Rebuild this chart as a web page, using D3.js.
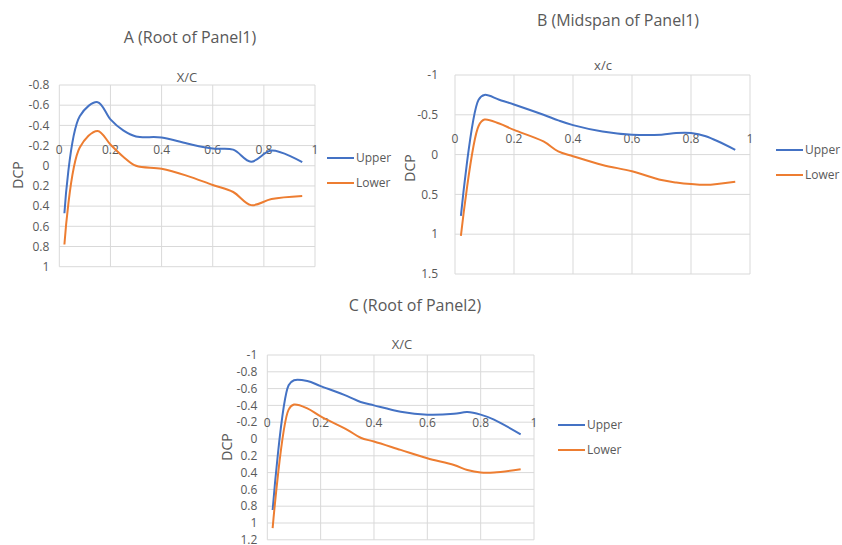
<!DOCTYPE html>
<html>
<head>
<meta charset="utf-8">
<script src="https://cdn.jsdelivr.net/npm/d3@7"></script>
<style>
  body { margin: 0; background: #fff; }
  text { font-family: "Open Sans", "Liberation Sans", sans-serif; fill: #595959; }
</style>
</head>
<body>
<svg width="842" height="545"></svg>
<script>
// x/c stations
var xA = [0.02, 0.08, 0.15, 0.2, 0.25, 0.3, 0.4, 0.5, 0.6, 0.68, 0.75, 0.83, 0.95];
var upperA = [0.47, -0.49, -0.63, -0.46, -0.35, -0.29, -0.28, -0.22, -0.17, -0.16, -0.04, -0.15, -0.035];
var lowerA = [0.78, -0.18, -0.345, -0.21, -0.09, 0.0, 0.03, 0.1, 0.19, 0.26, 0.39, 0.33, 0.3];

var xB = [0.02, 0.08, 0.1, 0.15, 0.2, 0.3, 0.35, 0.4, 0.5, 0.6, 0.7, 0.75, 0.8, 0.85, 0.95];
var upperB = [0.77, -0.69, -0.75, -0.69, -0.63, -0.5, -0.43, -0.37, -0.29, -0.25, -0.25, -0.27, -0.27, -0.23, -0.06];
var lowerB = [1.02, -0.36, -0.44, -0.39, -0.31, -0.165, -0.04, 0.02, 0.13, 0.21, 0.32, 0.35, 0.37, 0.38, 0.34];

var xC = [0.02, 0.08, 0.1, 0.15, 0.2, 0.3, 0.35, 0.4, 0.5, 0.6, 0.7, 0.75, 0.8, 0.85, 0.95];
var upperC = [0.845, -0.64, -0.70, -0.69, -0.63, -0.51, -0.44, -0.40, -0.325, -0.29, -0.30, -0.32, -0.29, -0.23, -0.055];
var lowerC = [1.06, -0.35, -0.41, -0.365, -0.27, -0.11, -0.015, 0.03, 0.13, 0.23, 0.31, 0.37, 0.40, 0.40, 0.36];

var xTicks = [0, 0.2, 0.4, 0.6, 0.8, 1];
var yTicksA = [-0.8, -0.6, -0.4, -0.2, 0, 0.2, 0.4, 0.6, 0.8, 1];
var yTicksB = [-1, -0.5, 0, 0.5, 1, 1.5];
var yTicksC = [-1, -0.8, -0.6, -0.4, -0.2, 0, 0.2, 0.4, 0.6, 0.8, 1, 1.2];

var seriesNames = ["Upper", "Lower"];
var colors = ["#4472C4", "#ED7D31"];

var panels = [
  { title: "A (Root of Panel1)", xTitle: "X/C", x: xA, upper: upperA, lower: lowerA, yTicks: yTicksA,
    left: 59.3, right: 315, top: 85, bottom: 266.7, gap: 10,
    titlePos: [190, 37], xTitlePos: [187, 77], dcpPos: [18, 175], legX: 327, legY: 158 },
  { title: "B (Midspan of Panel1)", xTitle: "x/c", x: xB, upper: upperB, lower: lowerB, yTicks: yTicksB,
    left: 455, right: 750, top: 75, bottom: 274, gap: 17,
    titlePos: [618, 20], xTitlePos: [603, 65], dcpPos: [410, 168], legX: 776, legY: 150 },
  { title: "C (Root of Panel2)", xTitle: "X/C", x: xC, upper: upperC, lower: lowerC, yTicks: yTicksC,
    left: 267.3, right: 534, top: 355, bottom: 539.8, gap: 10,
    titlePos: [415, 305], xTitlePos: [402, 344], dcpPos: [227, 447], legX: 558, legY: 425 }
];

var svg = d3.select("svg");
svg.append("rect").attr("width", 842).attr("height", 545).attr("fill", "#fff");

panels.forEach(function (p) {
  var x = d3.scaleLinear().domain([0, 1]).range([p.left, p.right]);
  var y = d3.scaleLinear().domain([p.yTicks[0], p.yTicks[p.yTicks.length - 1]]).range([p.top, p.bottom]);
  var g = svg.append("g");

  // gridlines
  g.selectAll(".hg").data(p.yTicks).enter().append("line")
    .attr("x1", p.left).attr("x2", p.right)
    .attr("y1", d => y(d)).attr("y2", d => y(d))
    .attr("stroke", "#d9d9d9").attr("stroke-width", 1);
  g.selectAll(".vg").data(xTicks).enter().append("line")
    .attr("x1", d => x(d)).attr("x2", d => x(d))
    .attr("y1", p.top).attr("y2", p.bottom)
    .attr("stroke", "#d9d9d9").attr("stroke-width", 1);

  // y tick labels
  g.selectAll(".yl").data(p.yTicks).enter().append("text")
    .attr("x", p.left - p.gap).attr("y", d => y(d))
    .attr("dy", "0.35em").attr("text-anchor", "end")
    .style("font-size", "12px")
    .text(d => d);

  // x tick labels sit above the zero line (reversed value axis)
  g.selectAll(".xl").data(xTicks).enter().append("text")
    .attr("x", d => x(d)).attr("y", y(0) - 16)
    .attr("dy", "0.35em").attr("text-anchor", "middle")
    .style("font-size", "12px")
    .text(d => d);

  var line = d3.line()
    .x(d => x(d[0])).y(d => y(d[1]))
    .curve(d3.curveCatmullRom.alpha(0.5));

  [p.upper, p.lower].forEach(function (vals, i) {
    g.append("path")
      .datum(p.x.map((xv, j) => [xv, vals[j]]))
      .attr("d", line)
      .attr("fill", "none")
      .attr("stroke", colors[i])
      .attr("stroke-width", 2);
  });

  // titles
  g.append("text").attr("x", p.titlePos[0]).attr("y", p.titlePos[1])
    .attr("dy", "0.35em").attr("text-anchor", "middle")
    .style("font-size", "16px").text(p.title);
  g.append("text").attr("x", p.xTitlePos[0]).attr("y", p.xTitlePos[1])
    .attr("dy", "0.35em").attr("text-anchor", "middle")
    .style("font-size", "13px").text(p.xTitle);
  g.append("text")
    .attr("transform", "translate(" + p.dcpPos[0] + "," + p.dcpPos[1] + ") rotate(-90)")
    .attr("dy", "0.35em").attr("text-anchor", "middle")
    .style("font-size", "14px").text("DCP");

  // legend
  seriesNames.forEach(function (name, i) {
    var ly = p.legY + i * 25;
    g.append("line")
      .attr("x1", p.legX).attr("x2", p.legX + 27)
      .attr("y1", ly).attr("y2", ly)
      .attr("stroke", colors[i]).attr("stroke-width", 2);
    g.append("text").attr("x", p.legX + 29).attr("y", ly)
      .attr("dy", "0.35em").style("font-size", "12px").text(name);
  });
});
</script>
</body>
</html>
